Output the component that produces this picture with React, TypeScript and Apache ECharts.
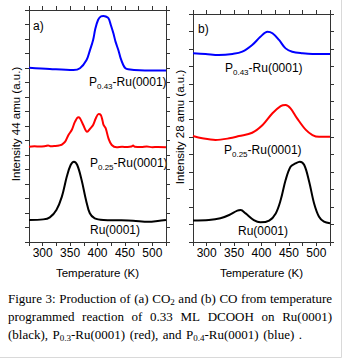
import React, { useEffect, useRef } from "react";
import * as echarts from "echarts";

// ---- data (temperature K, intensity a.u.) ----
const co2Clean: [number, number][] = [
  [275, 1.52], [301, 1.56], [313, 1.7], [325, 2.21], [335, 3.13], [344, 4.51], [351, 5.31],
  [357, 5.54], [363, 5.31], [371, 4.28], [379, 2.9], [386, 1.98], [395, 1.63], [411, 1.52],
  [440, 1.5], [465, 1.47], [493, 1.4], [510, 1.45], [525, 1.52],
];
const co2P025: [number, number][] = [
  [275, 6.57], [285, 6.6], [295, 6.58], [305, 6.62], [310, 6.66], [315, 6.6], [322, 6.62],
  [330, 6.66], [335, 6.72], [341, 6.92], [347, 7.38], [353, 7.72], [359, 8.3], [365, 8.6],
  [368, 8.53], [374, 8.07], [381, 7.61], [387, 7.84], [392, 8.07], [397, 8.53], [402, 8.83],
  [406, 8.76], [409, 8.4], [411, 8.07], [415, 7.84], [420, 7.15], [426, 6.69], [435, 6.53],
  [445, 6.57], [455, 6.55], [462, 6.58], [465, 6.65], [468, 6.57], [480, 6.55], [490, 6.58],
  [500, 6.54], [510, 6.56], [525, 6.53],
];
const co2P043: [number, number][] = [
  [275, 12.02], [313, 11.93], [356, 11.86], [368, 11.98], [380, 12.55], [386, 13.2],
  [392, 13.93], [396, 14.7], [401, 15.31], [406, 15.55], [411, 15.59], [415, 15.55],
  [420, 15.43], [424, 15.0], [429, 14.39], [433, 13.8], [438, 13.24], [442, 12.7],
  [447, 12.21], [451, 11.98], [456, 11.91], [477, 11.84], [525, 11.82],
];
const coClean: [number, number][] = [
  [275, 1.22], [304, 1.25], [325, 1.35], [341, 1.54], [356, 1.79], [362, 1.82], [371, 1.63],
  [386, 1.25], [398, 1.12], [414, 1.22], [426, 1.63], [435, 2.39], [444, 3.53], [453, 4.29],
  [462, 4.48], [470, 4.58], [478, 4.39], [487, 3.44], [496, 2.2], [505, 1.44], [514, 1.16],
  [525, 1.07],
];
const coP025: [number, number][] = [
  [275, 6.04], [292, 5.91], [316, 5.82], [341, 5.91], [359, 6.04], [383, 6.23], [402, 6.67],
  [420, 7.34], [435, 7.75], [444, 7.81], [453, 7.62], [465, 7.05], [481, 6.39], [493, 6.1],
  [505, 6.0], [525, 6.0],
];
const coP043: [number, number][] = [
  [275, 10.76], [298, 10.72], [322, 10.66], [347, 10.72], [365, 10.85], [383, 11.23],
  [398, 11.7], [411, 11.99], [420, 11.9], [432, 11.52], [444, 11.04], [456, 10.85],
  [475, 10.76], [493, 10.72], [525, 10.72],
];
const xTickLabels = [300, 350, 400, 450, 500];
const panelTitles = ["a)", "b)"];
const yNames = ["Intensity 44 amu (a.u.)", "Intensity 28 amu (a.u.)"];
const xName = "Temperature (K)";

// caption words: each word is a list of [text, style] pieces (c = normal, t = subscript)
type Piece = [string, "c" | "t"];
const captionLine1: Piece[][] = [
  [["Figure", "c"]], [["3:", "c"]], [["Production", "c"]], [["of", "c"]], [["(a)", "c"]],
  [["CO", "c"], ["2", "t"]], [["and", "c"]], [["(b)", "c"]], [["CO", "c"]], [["from", "c"]],
  [["temperature", "c"]],
];
const captionLine2: Piece[][] = [
  [["programmed", "c"]], [["reaction", "c"]], [["of", "c"]], [["0.33", "c"]], [["ML", "c"]],
  [["DCOOH", "c"]], [["on", "c"]], [["Ru(0001)", "c"]],
];
const captionLine3: Piece[][] = [
  [["(black),", "c"]], [["P", "c"], ["0.3", "t"], ["-Ru(0001)", "c"]], [["(red),", "c"]],
  [["and", "c"]], [["P", "c"], ["0.4", "t"], ["-Ru(0001)", "c"]], [["(blue)", "c"]], [[".", "c"]],
];

const SANS = "'Liberation Sans', Arial, sans-serif";
const SERIF = "'Liberation Serif', 'Times New Roman', serif";
const AXIS = "#333";
const CAP_SIZE = 13;
const SUB_SIZE = 9;

function makeX(gridIndex: number, top: boolean) {
  return {
    type: "value",
    gridIndex,
    position: top ? "top" : "bottom",
    min: 275,
    max: 525,
    interval: 25,
    axisLine: { show: true, onZero: false, lineStyle: { color: AXIS, width: 1 } },
    axisTick: { show: true, inside: false, length: 4, lineStyle: { color: AXIS } },
    axisLabel: {
      show: !top,
      interval: 0,
      margin: 5,
      color: "#000",
      fontSize: 12,
      fontFamily: SANS,
      formatter: (v: number) => (xTickLabels.includes(v) ? String(v) : ""),
    },
    splitLine: { show: false },
  };
}
function makeY(gridIndex: number, right: boolean, max: number) {
  return {
    type: "value",
    gridIndex,
    position: right ? "right" : "left",
    min: 0,
    max,
    interval: 1,
    axisLine: { show: true, onZero: false, lineStyle: { color: AXIS, width: 1 } },
    axisTick: { show: true, inside: false, length: 4, lineStyle: { color: AXIS } },
    axisLabel: { show: false },
    splitLine: { show: false },
  };
}
function line(data: [number, number][], color: string, xi: number, yi: number) {
  return {
    type: "line",
    data,
    xAxisIndex: xi,
    yAxisIndex: yi,
    symbol: "none",
    smooth: 0.35,
    lineStyle: { color, width: 2 },
    silent: true,
  };
}
function label(x: number, y: number, sub: string | null, rest: string) {
  const text = sub ? `{a|P}{s|${sub}}{a|${rest}}` : `{a|${rest}}`;
  return {
    type: "text",
    x,
    y,
    style: {
      text,
      textAlign: "left",
      textVerticalAlign: "middle",
      rich: {
        a: { fontSize: 12, fontFamily: SANS, fill: "#000", lineHeight: 16, verticalAlign: "middle" },
        s: { fontSize: 8, fontFamily: SANS, fill: "#000", lineHeight: 8, verticalAlign: "bottom" },
      },
    },
  };
}

const capRich = {
  c: { fontSize: CAP_SIZE, fontFamily: SERIF, fill: "#000", lineHeight: 16, verticalAlign: "middle" },
  t: { fontSize: SUB_SIZE, fontFamily: SERIF, fill: "#000", lineHeight: 8, verticalAlign: "bottom" },
};

function justifyLine(words: Piece[][], y: number, x0: number, x1: number) {
  const ctx = document.createElement("canvas").getContext("2d")!;
  const widths = words.map((w) =>
    w.reduce((s, [txt, st]) => {
      ctx.font = `${st === "c" ? CAP_SIZE : SUB_SIZE}px ${SERIF}`;
      return s + ctx.measureText(txt).width;
    }, 0)
  );
  const total = widths.reduce((a, b) => a + b, 0);
  const gap = (x1 - x0 - total) / (words.length - 1);
  let x = x0;
  return words.map((w, i) => {
    const el = {
      type: "text",
      x,
      y,
      style: {
        text: w.map(([txt, st]) => `{${st}|${txt}}`).join(""),
        textAlign: "left",
        textVerticalAlign: "middle",
        rich: capRich,
      },
    };
    x += widths[i] + gap;
    return el;
  });
}

export default function App() {
  const ref = useRef<HTMLDivElement>(null);
  useEffect(() => {
    if (!ref.current) return;
    const chart = echarts.init(ref.current, null, { renderer: "svg" });
    chart.setOption({
      animation: false,
      backgroundColor: "#fff",
      grid: [
        { left: 29, top: 10, width: 137, height: 232 },
        { left: 193, top: 14, width: 137, height: 228 },
      ],
      xAxis: [makeX(0, false), makeX(0, true), makeX(1, false), makeX(1, true)],
      yAxis: [makeY(0, false, 16), makeY(0, true, 16), makeY(1, false, 13), makeY(1, true, 13)],
      series: [
        line(co2Clean, "#000", 0, 0),
        line(co2P025, "#ff0000", 0, 0),
        line(co2P043, "#0000ff", 0, 0),
        line(coClean, "#000", 2, 2),
        line(coP025, "#ff0000", 2, 2),
        line(coP043, "#0000ff", 2, 2),
      ],
      graphic: [
        { type: "text", x: 33, y: 26, style: { text: panelTitles[0], font: `12px ${SANS}`, fill: "#000", textVerticalAlign: "middle" } },
        { type: "text", x: 198, y: 29, style: { text: panelTitles[1], font: `12px ${SANS}`, fill: "#000", textVerticalAlign: "middle" } },
        { type: "text", x: 16, y: 124, rotation: Math.PI / 2, style: { text: yNames[0], font: `11.5px ${SANS}`, fill: "#000", textAlign: "center", textVerticalAlign: "middle" } },
        { type: "text", x: 180, y: 127, rotation: Math.PI / 2, style: { text: yNames[1], font: `11.5px ${SANS}`, fill: "#000", textAlign: "center", textVerticalAlign: "middle" } },
        { type: "text", x: 97.5, y: 273, style: { text: xName, font: `11.5px ${SANS}`, fill: "#000", textAlign: "center", textVerticalAlign: "middle" } },
        { type: "text", x: 261.5, y: 273, style: { text: xName, font: `11.5px ${SANS}`, fill: "#000", textAlign: "center", textVerticalAlign: "middle" } },
        label(89, 82, "0.43", "-Ru(0001)"),
        label(90, 163, "0.25", "-Ru(0001)"),
        label(90, 230, null, "Ru(0001)"),
        label(225, 68, "0.43", "-Ru(0001)"),
        label(224, 150, "0.25", "-Ru(0001)"),
        label(238, 231, null, "Ru(0001)"),
        ...justifyLine(captionLine1, 298, 8, 332),
        ...justifyLine(captionLine2, 316, 8, 332),
        ...justifyLine(captionLine3, 334, 8, 302),
        { type: "line", shape: { x1: 341.5, y1: 0, x2: 341.5, y2: 357.5 }, style: { stroke: "#d9d9d9", lineWidth: 1 } },
        { type: "line", shape: { x1: 0, y1: 357.5, x2: 341.5, y2: 357.5 }, style: { stroke: "#d9d9d9", lineWidth: 1 } },
      ],
    });
    return () => chart.dispose();
  }, []);
  return (
    <div
      ref={ref}
      style={{ position: "fixed", left: 0, top: 0, width: 343, height: 359, background: "#fff" }}
    />
  );
}
